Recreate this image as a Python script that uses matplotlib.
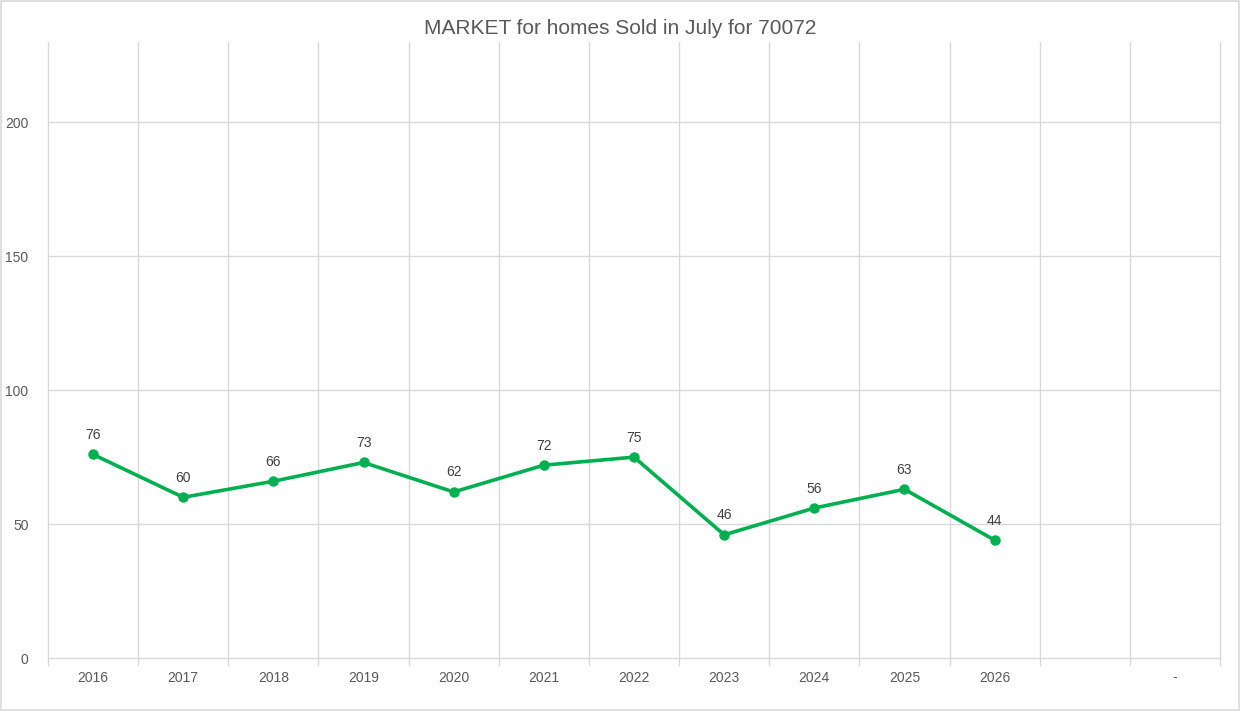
import numpy as np
import matplotlib.pyplot as plt
from matplotlib.patches import Rectangle

# Data
categories = ['2016', '2017', '2018', '2019', '2020', '2021', '2022',
              '2023', '2024', '2025', '2026', '', '-']
homes_sold = [76, 60, 66, 73, 62, 72, 75, 46, 56, 63, 44]
y_ticks = [0, 50, 100, 150, 200]

text_color = '#595959'
grid_color = '#D9D9D9'
line_color = '#00B050'

plt.rcParams['font.family'] = ['Liberation Sans', 'DejaVu Sans']

fig = plt.figure(figsize=(12.4, 7.11), dpi=100)
ax = fig.add_axes([48 / 1240, 53 / 711, 1172 / 1240, 616 / 711])

# Frame around the whole chart
fig.patches.append(Rectangle((0.001, 0.001), 0.998, 0.997, transform=fig.transFigure,
                             fill=False, edgecolor=grid_color, linewidth=1.2))

x = np.arange(len(categories))
ax.set_xlim(-0.5, len(categories) - 0.5)
ax.set_ylim(0, 230)

# Gridlines: horizontal at ticks, vertical at category boundaries (with small ticks below)
for yv in y_ticks:
    ax.axhline(yv, color=grid_color, linewidth=1, zorder=0, clip_on=False)
for b in np.arange(-0.5, len(categories) + 0.5, 1):
    ax.plot([b, b], [-2.5, 230], color=grid_color, linewidth=1, zorder=0, clip_on=False)

xs = x[:len(homes_sold)]
ax.plot(xs, homes_sold, color=line_color, linewidth=2.6, marker='o', markersize=6.5, zorder=3)
for xi, v in zip(xs, homes_sold):
    ax.annotate(str(v), (xi, v), xytext=(0, 9), textcoords='offset points',
                ha='center', va='bottom', fontsize=10, color='#404040')

ax.set_xticks(x)
ax.set_xticklabels(categories)
ax.set_yticks(y_ticks)
ax.tick_params(axis='both', length=0, labelsize=10, colors=text_color)
ax.tick_params(axis='x', pad=9)
ax.tick_params(axis='y', pad=14)
for s in ax.spines.values():
    s.set_visible(False)

fig.text(0.5, 1 - 28 / 711, 'MARKET for homes Sold in July for 70072', ha='center', va='center',
         fontsize=15, color=text_color)

plt.savefig('out.png', dpi=100)
